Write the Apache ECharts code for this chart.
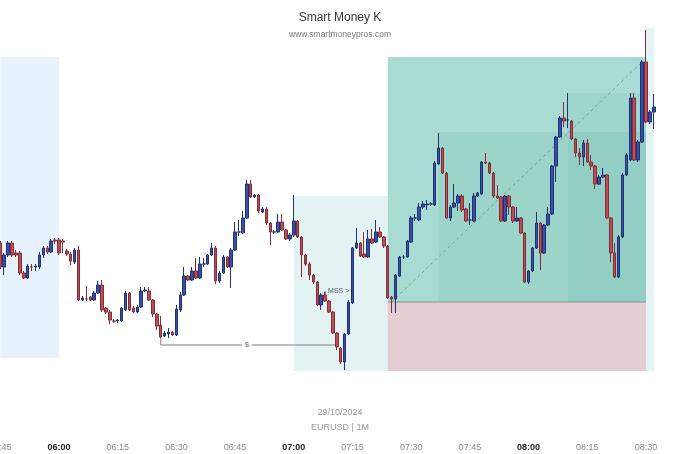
<!DOCTYPE html>
<html>
<head>
<meta charset="utf-8">
<script src="https://cdn.jsdelivr.net/npm/echarts@6/dist/echarts.min.js"></script>
<style>
html,body{margin:0;padding:0;background:#fff;}
#chart{width:680px;height:454px;}
</style>
</head>
<body>
<div id="chart"></div>
<script>
// ---- time categories (1-minute bars, EURUSD 29/10/2024) ----
const startTime = '05:45';
const categoryCount = 174;
const hourLabels = ['00'];
const tickMinutes = ['00', '15', '30', '45'];

// ---- candle values [open, close, low, high], one per minute from 05:45 ----
const ohlc = [
[1.08037,1.08013,1.08011,1.08039],[1.08013,1.08025,1.08005,1.08027],[1.08025,1.08037,1.08023,1.08039],[1.08037,1.08025,1.08023,1.08039],
[1.08027,1.08025,1.08023,1.08030],[1.08027,1.08007,1.08005,1.08029],[1.08007,1.08002,1.08001,1.08009],[1.08002,1.08014,1.08001,1.08016],
[1.08013,1.08013,1.08009,1.08016],[1.08013,1.08014,1.08009,1.08016],[1.08013,1.08025,1.08011,1.08028],[1.08025,1.08032,1.08022,1.08034],
[1.08032,1.08028,1.08026,1.08034],[1.08028,1.08039,1.08027,1.08041],[1.08040,1.08039,1.08036,1.08042],[1.08040,1.08027,1.08025,1.08042],
[1.08039,1.08038,1.08027,1.08041],[1.08029,1.08026,1.08024,1.08031],[1.08026,1.08019,1.08015,1.08028],[1.08018,1.08030,1.08016,1.08032],
[1.08030,1.07980,1.07979,1.08034],[1.07980,1.07982,1.07979,1.07984],[1.07981,1.07981,1.07979,1.07994],[1.07983,1.07980,1.07979,1.07984],
[1.07980,1.07987,1.07979,1.07989],[1.07987,1.07995,1.07986,1.07999],[1.07995,1.07970,1.07968,1.08000],[1.07972,1.07968,1.07966,1.07973],
[1.07968,1.07960,1.07956,1.07970],[1.07959,1.07959,1.07957,1.07961],[1.07959,1.07960,1.07957,1.07961],[1.07959,1.07972,1.07958,1.07973],
[1.07970,1.07987,1.07969,1.07989],[1.07987,1.07970,1.07969,1.07988],[1.07972,1.07968,1.07967,1.07974],[1.07968,1.07973,1.07967,1.07975],
[1.07973,1.07989,1.07972,1.07993],[1.07989,1.07990,1.07988,1.07993],[1.07989,1.07980,1.07979,1.07993],[1.07980,1.07966,1.07963,1.07981],
[1.07966,1.07954,1.07950,1.07967],[1.07955,1.07943,1.07942,1.07964],[1.07944,1.07947,1.07943,1.07949],[1.07946,1.07948,1.07942,1.07952],
[1.07948,1.07945,1.07944,1.07949],[1.07945,1.07971,1.07944,1.07975],[1.07970,1.07985,1.07968,1.07988],[1.07985,1.08004,1.07984,1.08013],
[1.08004,1.08000,1.07999,1.08005],[1.08000,1.08009,1.07999,1.08013],[1.08009,1.08002,1.08001,1.08022],[1.08002,1.08016,1.08001,1.08023],
[1.08016,1.08016,1.08013,1.08022],[1.08016,1.08025,1.08015,1.08026],[1.08025,1.08032,1.08024,1.08037],[1.08032,1.07999,1.07996,1.08034],
[1.07999,1.08007,1.07997,1.08009],[1.08007,1.08023,1.08006,1.08025],[1.08023,1.08013,1.08012,1.08024],[1.08013,1.08030,1.07992,1.08032],
[1.08030,1.08048,1.08029,1.08058],[1.08048,1.08048,1.08044,1.08060],[1.08047,1.08062,1.08046,1.08069],[1.08062,1.08096,1.08061,1.08100],
[1.08096,1.08083,1.08082,1.08100],[1.08083,1.08085,1.08082,1.08086],[1.08085,1.08069,1.08067,1.08086],[1.08068,1.08071,1.08067,1.08073],
[1.08071,1.08057,1.08055,1.08073],[1.08057,1.08048,1.08035,1.08058],[1.08048,1.08048,1.08046,1.08050],[1.08048,1.08058,1.08047,1.08066],
[1.08058,1.08050,1.08049,1.08066],[1.08050,1.08041,1.08040,1.08051],[1.08041,1.08045,1.08039,1.08047],[1.08045,1.08059,1.08043,1.08085],
[1.08059,1.08043,1.08042,1.08060],[1.08043,1.08025,1.08003,1.08044],[1.08025,1.08016,1.08014,1.08026],[1.08016,1.08005,1.08000,1.08018],
[1.08005,1.07998,1.07996,1.08006],[1.07998,1.07975,1.07974,1.07999],[1.07975,1.07985,1.07970,1.07987],[1.07985,1.07979,1.07978,1.07988],
[1.07979,1.07968,1.07967,1.07980],[1.07968,1.07947,1.07946,1.07969],[1.07947,1.07933,1.07930,1.07948],[1.07932,1.07918,1.07916,1.07933],
[1.07918,1.07946,1.07910,1.07947],[1.07946,1.07978,1.07945,1.07980],[1.07977,1.08032,1.07976,1.08033],[1.08032,1.08037,1.08031,1.08052],
[1.08037,1.08024,1.08023,1.08038],[1.08026,1.08023,1.08022,1.08048],[1.08023,1.08041,1.08022,1.08050],[1.08041,1.08037,1.08036,1.08051],
[1.08038,1.08048,1.08037,1.08060],[1.08048,1.08043,1.08042,1.08053],[1.08043,1.08034,1.08032,1.08044],[1.08034,1.07982,1.07981,1.08035],
[1.07983,1.07981,1.07967,1.07984],[1.07981,1.08005,1.07967,1.08006],[1.08004,1.08023,1.08003,1.08024],[1.08023,1.08023,1.08021,1.08025],
[1.08023,1.08039,1.08022,1.08040],[1.08038,1.08062,1.08037,1.08064],[1.08062,1.08062,1.08059,1.08066],[1.08060,1.08073,1.08059,1.08077],
[1.08073,1.08076,1.08071,1.08079],[1.08075,1.08076,1.08070,1.08080],[1.08076,1.08076,1.08074,1.08078],[1.08075,1.08117,1.08074,1.08119],
[1.08116,1.08132,1.08115,1.08147],[1.08132,1.08107,1.08106,1.08133],[1.08107,1.08062,1.08061,1.08108],[1.08062,1.08073,1.08059,1.08075],
[1.08073,1.08077,1.08072,1.08096],[1.08077,1.08084,1.08069,1.08086],[1.08084,1.08070,1.08068,1.08086],[1.08071,1.08059,1.08058,1.08072],
[1.08060,1.08060,1.08055,1.08077],[1.08059,1.08084,1.08058,1.08087],[1.08084,1.08087,1.08083,1.08088],[1.08086,1.08118,1.08085,1.08119],
[1.08118,1.08117,1.08116,1.08127],[1.08117,1.08107,1.08106,1.08118],[1.08107,1.08084,1.08082,1.08108],[1.08084,1.08082,1.08081,1.08095],
[1.08083,1.08059,1.08058,1.08084],[1.08059,1.08084,1.08058,1.08085],[1.08084,1.08073,1.08065,1.08085],[1.08073,1.08059,1.08057,1.08074],
[1.08059,1.08062,1.08058,1.08073],[1.08062,1.08047,1.08046,1.08063],[1.08047,1.07998,1.07997,1.08048],[1.07998,1.08009,1.07996,1.08010],
[1.08009,1.08032,1.08008,1.08033],[1.08032,1.08057,1.08031,1.08068],[1.08057,1.08027,1.08010,1.08058],[1.08027,1.08055,1.08026,1.08056],
[1.08055,1.08066,1.08054,1.08073],[1.08066,1.08114,1.08065,1.08115],[1.08114,1.08143,1.08098,1.08144],[1.08143,1.08162,1.08142,1.08164],
[1.08162,1.08159,1.08153,1.08178],[1.08160,1.08160,1.08152,1.08187],[1.08159,1.08141,1.08140,1.08160],[1.08141,1.08127,1.08123,1.08142],
[1.08127,1.08123,1.08115,1.08132],[1.08123,1.08137,1.08114,1.08140],[1.08137,1.08118,1.08117,1.08141],[1.08118,1.08114,1.08110,1.08125],
[1.08114,1.08096,1.08091,1.08115],[1.08096,1.08103,1.08095,1.08105],[1.08103,1.08105,1.08102,1.08112],[1.08105,1.08062,1.08061,1.08106],
[1.08062,1.08027,1.08018,1.08063],[1.08027,1.08003,1.08002,1.08037],[1.08003,1.08043,1.08002,1.08045],[1.08043,1.08105,1.08042,1.08107],
[1.08105,1.08125,1.08104,1.08127],[1.08120,1.08182,1.08119,1.08187],[1.08182,1.08120,1.08119,1.08187],[1.08120,1.08138,1.08118,1.08140],
[1.08138,1.08218,1.08137,1.08220],[1.08218,1.08158,1.08157,1.08250],[1.08158,1.08168,1.08156,1.08170],[1.08168,1.08173,1.08151,1.08186]
];

// ---- shaded zones (time from, time to, upper price, lower price) ----
const zoneNames = ['session', 'range', 'range2', 'target', 'stop', 'tp1', 'tp2'];
const zoneFrom  = ['05:45', '07:00', '08:30', '07:24', '07:24', '07:37', '08:10'];
const zoneTo    = ['06:00', '07:24', '08:32', '08:30', '08:30', '08:30', '08:30'];
const zoneHigh  = [1.08223, 1.08084, 1.08252, 1.08223, 1.07978, 1.08148, 1.08187];
const zoneLow   = [1.07922, 1.07909, 1.07909, 1.07978, 1.07909, 1.07978, 1.07978];

// ---- annotation lines ----
const entryLine = [['07:24', 1.07978], ['08:30', 1.07978]];
const diagLine = [['07:25', 1.07978], ['08:29', 1.08218]];
const liquidityLine = [['06:26', 1.07945], ['06:26', 1.07935], ['07:11', 1.07935]];
const liquidityLabel = [['06:48', 1.07935]];
const mssLine = [['07:08', 1.07985], ['07:08', 1.07989]];

const yMin = 1.07843, yMax = 1.08260;

// ---- styles ----
const zoneFill = {
  session: '#e7f2fc',
  range: '#e3f2f2',
  range2: '#e3f2f2',
  target: '#a8dcd2',
  stop: '#e3ced3',
  tp1: 'rgba(0,120,100,0.07)',
  tp2: 'rgba(0,120,100,0.06)'
};

function pad(n){ return (n < 10 ? '0' : '') + n; }
const startMin = parseInt(startTime.slice(0,2)) * 60 + parseInt(startTime.slice(3));
const times = [];
for (let i = 0; i < categoryCount; i++) {
  const m = startMin + i;
  times.push(pad(Math.floor(m / 60)) + ':' + pad(m % 60));
}
const idx = t => times.indexOf(t);

const zoneData = zoneNames.map((n, i) => [idx(zoneFrom[i]), idx(zoneTo[i]), zoneHigh[i], zoneLow[i], i]);

const chart = echarts.init(document.getElementById('chart'), null, {renderer: 'canvas'});
const FONT = 'Liberation Sans, Arial, sans-serif';

chart.setOption({
  animation: false,
  backgroundColor: '#ffffff',
  textStyle: {fontFamily: FONT},
  title: [
    {
      text: 'Smart Money K', subtext: 'www.smartmoneypros.com',
      left: 'center', top: 7, itemGap: 6,
      textStyle: {fontSize: 12, fontWeight: 'normal', color: '#333', fontFamily: FONT},
      subtextStyle: {fontSize: 8.5, color: '#777', fontFamily: FONT}
    },
    {
      text: '29/10/2024', subtext: 'EURUSD | 1M',
      left: 'center', top: 403, itemGap: 6,
      textStyle: {fontSize: 9, fontWeight: 'normal', color: '#999', fontFamily: FONT},
      subtextStyle: {fontSize: 9, color: '#999', fontFamily: FONT}
    }
  ],
  grid: {left: -1.66, right: 0.76, top: 20, bottom: 17, containLabel: false, outerBoundsMode: 'none'},
  xAxis: {
    type: 'category',
    data: times,
    boundaryGap: true,
    axisLine: {show: false},
    axisTick: {show: false},
    splitLine: {show: false},
    axisLabel: {
      margin: 6,
      fontSize: 9,
      color: '#888',
      fontFamily: FONT,
      interval: (i, v) => tickMinutes.indexOf(v.slice(3)) >= 0,
      formatter: v => hourLabels.indexOf(v.slice(3)) >= 0 ? '{h|' + v + '}' : v,
      rich: {h: {fontWeight: 'bold', color: '#222', fontSize: 9, fontFamily: FONT}}
    }
  },
  yAxis: {
    type: 'value', min: yMin, max: yMax, show: false, scale: true,
    splitLine: {show: false}
  },
  series: [
    {
      type: 'custom',
      z: 1,
      silent: true,
      data: zoneData,
      encode: {x: [0, 1], y: [2, 3]},
      renderItem: (params, api) => {
        const p0 = api.coord([api.value(0), api.value(2)]);
        const p1 = api.coord([api.value(1), api.value(3)]);
        const name = zoneNames[api.value(4)];
        return {
          type: 'rect',
          shape: {x: p0[0], y: p0[1], width: p1[0] - p0[0], height: p1[1] - p0[1]},
          style: {fill: zoneFill[name]}
        };
      }
    },
    {
      type: 'line', z: 2, silent: true, symbol: 'none',
      data: entryLine,
      lineStyle: {color: '#8c8c8c', width: 1}
    },
    {
      type: 'line', z: 2, silent: true, symbol: 'none',
      data: diagLine,
      lineStyle: {color: '#7a9893', width: 1, type: [3, 3]}
    },
    {
      type: 'line', z: 2, silent: true, symbol: 'none',
      data: liquidityLine,
      lineStyle: {color: '#808080', width: 1}
    },
    {
      type: 'scatter', z: 4, silent: true, symbolSize: 0,
      data: liquidityLabel,
      label: {show: true, position: 'inside', formatter: '$', fontSize: 7, color: '#444',
              backgroundColor: '#ffffff', padding: [0, 3], fontFamily: FONT}
    },
    {
      type: 'line', z: 2, silent: true, symbol: 'none',
      data: mssLine,
      lineStyle: {color: '#666', width: 1},
      endLabel: {show: true, formatter: 'MSS >', fontSize: 7, color: '#555', distance: 3, fontFamily: FONT}
    },
    {
      type: 'candlestick',
      z: 3,
      silent: true,
      barWidth: 3,
      data: ohlc,
      itemStyle: {
        color: '#3550ad',
        color0: '#c24a54',
        borderColor: '#23326f',
        borderColor0: '#7e3038',
        borderWidth: 1
      }
    }
  ]
});
</script>
</body>
</html>
